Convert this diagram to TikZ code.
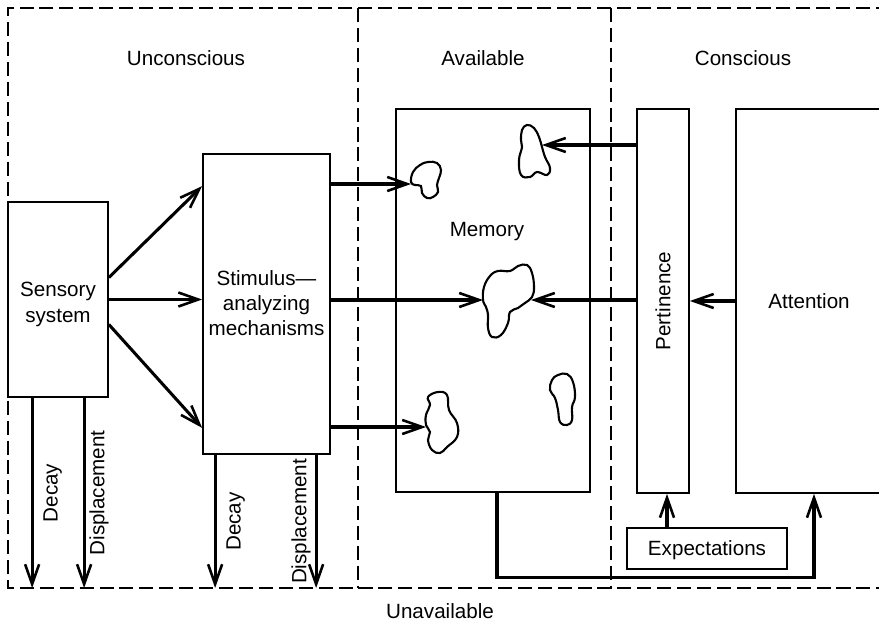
\documentclass[tikz,border=0pt]{standalone}
\usepackage{fontspec}
\setmainfont{Liberation Sans}
\usetikzlibrary{arrows.meta, positioning, calc, fit}

\tikzset{
    box/.style={draw, line width=1.5pt, inner sep=0pt},
    flow/.style={line width=2.6pt, -{Straight Barb[length=17pt, width=12pt, line width=2.2pt]}},
    zone/.style={line width=1.1pt, dash pattern=on 12pt off 5pt},
    blob/.style={line width=1.8pt},
}

\begin{document}
\begin{tikzpicture}[x=0.03cm, y=-0.03cm, font=\fontsize{17.6}{21.5}\selectfont]
    \useasboundingbox (0,0) rectangle (879,627);
    \clip (0,0) rectangle (879,627);

    % regions
    \draw[zone] (890,8) -- (8,8) -- (8,588) -- (890,588);
    \draw[zone] (358,8) -- (358,588);
    \draw[zone] (611,8) -- (611,588);
    \node (unconscious) at (186,58) {Unconscious};
    \node (available) at (483,58) {Available};
    \node (conscious) at (743,58) {Conscious};
    \node (unavailable) at (440,611) {Unavailable};
    \coordinate (floor) at (0,588);

    % boxes
    \node[box, fit={(8,202) (108,397)}] (sensory) {};
    \node[align=center] (senslabel) at ($(sensory.center)+(0,5)$) {Sensory\\system};
    \node[box, fit={(203,154) (330,454)}] (stimulus) {};
    \node[align=center] (stimlabel) at ($(stimulus.center)+(0,-1)$) {Stimulus---\\analyzing\\mechanisms};
    \node[box, fit={(396,109) (590,492)}] (memory) {};
    \node (memlabel) at (487,232) {Memory};
    \node[box, fit={(637,109) (689,493)}] (pertinence) {};
    \node[rotate=90] (pertlabel) at (pertinence.center) {Pertinence};
    \node[box, fit={(736,109) (882,493)}] (attention) {};
    \node (attlabel) at (attention.center) {Attention};
    \node[box, fit={(627,528) (787,569)}] (expect) {};
    \node (explabel) at ($(expect.center)+(0,2)$) {Expectations};

    % memory traces
    \draw[blob] plot[smooth cycle, tension=0.7] coordinates {(411,182) (413,172) (420,165) (428,162) (437,163) (441,170) (439,178) (437,185) (438,192) (433,197) (427,198) (422,193) (421,186) (415,185)};
    \draw[blob] plot[smooth cycle, tension=0.7] coordinates {(527,125) (522,130) (521,140) (522,147) (519,160) (521,175) (530,177) (537,172) (547,175) (550,168) (545,157) (542,147) (539,137) (534,128)};
    \draw[blob] plot[smooth cycle, tension=0.7] coordinates {(483,300) (484,287) (490,276) (498,271) (510,271) (518,266) (527,265) (532,273) (534,287) (532,297) (525,303) (518,308) (510,312) (508,323) (501,335) (492,337) (488,328) (488,315) (486,307)};
    \draw[blob] plot[smooth cycle, tension=0.7] coordinates {(428,397) (438,392) (447,395) (449,410) (457,423) (457,437) (447,447) (440,453) (432,450) (428,440) (430,432) (426,425) (426,415) (430,405)};
    \draw[blob] plot[smooth cycle, tension=0.7] coordinates {(558,375) (567,374) (573,382) (575,397) (572,407) (572,420) (567,425) (560,422) (558,410) (555,398) (550,390) (552,380)};
    \coordinate (traceA) at (411,184);
    \coordinate (traceB) at (542,145);
    \coordinate (traceCl) at (483,300);
    \coordinate (traceCr) at (531,300);
    \coordinate (traceD) at (426,427);

    % sensory system to analysis
    \draw[flow] ($(sensory.east)+(0,-22)$) -- ($(stimulus.north west)+(0,33)$);
    \draw[flow] (sensory.east) -- (sensory.east -| stimulus.west);
    \draw[flow] ($(sensory.east)+(0,25)$) -- ($(stimulus.south west)+(0,-27)$);

    % analysis to memory
    \draw[flow] (stimulus.east |- traceA) -- (traceA);
    \draw[flow] (stimulus.east |- traceCl) -- (traceCl);
    \draw[flow] (stimulus.east |- traceD) -- (traceD);

    % pertinence and attention
    \draw[flow] (pertinence.west |- traceB) -- (traceB);
    \draw[flow] (pertinence.west |- traceCr) -- (traceCr);
    \draw[flow] (attention.west) -- (attention.west -| pertinence.east);
    \draw[flow] ($(expect.north -| pertinence.south)+(4,0)$) -- ($(pertinence.south)+(4,0)$);
    \draw[flow] ($(memory.south)+(4,0)$) -- ++(0,85) -| ($(attention.south)+(5,0)$);

    % losses
    \coordinate (sdecay) at ($(sensory.south west)+(25,0)$);
    \coordinate (sdisp) at ($(sensory.south west)+(77,0)$);
    \coordinate (adecay) at ($(stimulus.south west)+(13,0)$);
    \coordinate (adisp) at ($(stimulus.south west)+(114,0)$);
    \draw[flow] (sdecay) -- (sdecay |- floor) node[midway, rotate=90, anchor=north, yshift=-5] (sdecaylabel) {Decay};
    \draw[flow] (sdisp) -- (sdisp |- floor) node[midway, rotate=90, anchor=north] (sdisplabel) {Displacement};
    \draw[flow] (adecay) -- (adecay |- floor) node[midway, rotate=90, anchor=north, yshift=-5] (adecaylabel) {Decay};
    \draw[flow] (adisp) -- (adisp |- floor) node[midway, rotate=90, anchor=south] (adisplabel) {Displacement};
\end{tikzpicture}
\end{document}
